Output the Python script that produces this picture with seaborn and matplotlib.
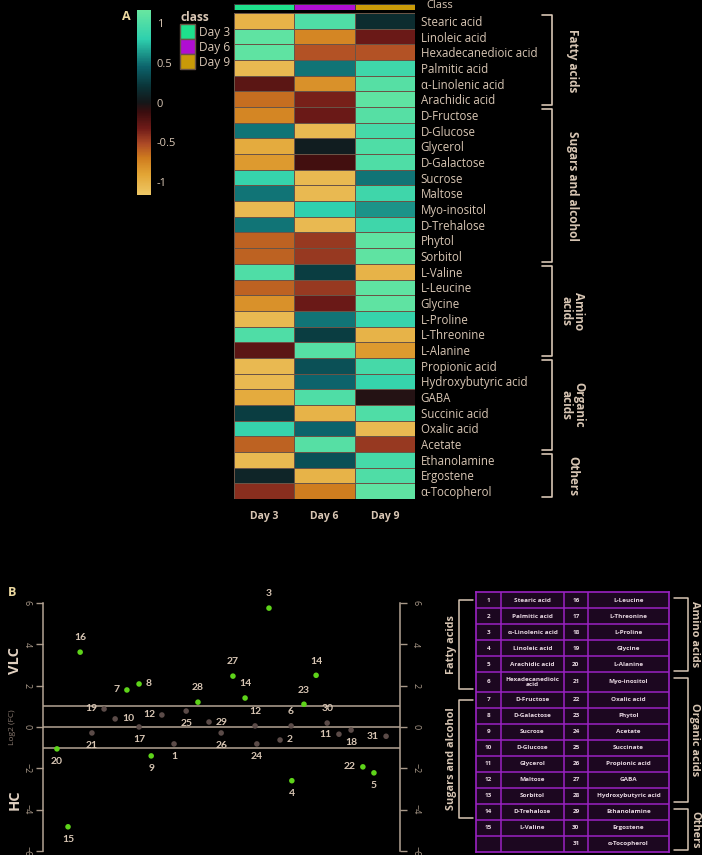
import numpy as np
import pandas as pd
import seaborn as sns
import matplotlib.pyplot as plt
import matplotlib.transforms as mtransforms
from matplotlib.colors import LinearSegmentedColormap, ListedColormap
from matplotlib.patches import Patch

# ---------------- Panel A data ----------------
metabolites = ['Stearic acid', 'Linoleic acid', 'Hexadecanedioic acid', 'Palmitic acid',
               'α-Linolenic acid', 'Arachidic acid', 'D-Fructose', 'D-Glucose', 'Glycerol',
               'D-Galactose', 'Sucrose', 'Maltose', 'Myo-inositol', 'D-Trehalose', 'Phytol',
               'Sorbitol', 'L-Valine', 'L-Leucine', 'Glycine', 'L-Proline', 'L-Threonine',
               'L-Alanine', 'Propionic acid', 'Hydroxybutyric acid', 'GABA', 'Succinic acid',
               'Oxalic acid', 'Acetate', 'Ethanolamine', 'Ergostene', 'α-Tocopherol']
days = ['Day 3', 'Day 6', 'Day 9']
day3 = [-1.0, 1.1, 1.1, -1.05, -0.25, -0.65, -0.75, 0.5, -0.95, -0.85, 0.85, 0.5, -1.05,
        0.5, -0.6, -0.6, 1.0, -0.6, -0.8, -1.05, 1.0, -0.25, -1.05, -1.05, -0.95, 0.25,
        0.85, -0.6, -1.05, 0.1, -0.4]
day6 = [1.0, -0.75, -0.55, 0.5, -0.8, -0.35, -0.3, -1.05, 0.05, -0.15, -1.05, -1.05, 0.8,
        -1.05, -0.45, -0.45, 0.25, -0.45, -0.3, 0.5, 0.25, 1.05, 0.35, 0.45, 1.0, -1.0,
        0.45, 1.05, 0.35, -1.0, -0.7]
day9 = [0.15, -0.3, -0.55, 0.9, 1.05, 1.1, 1.05, 0.95, 1.0, 1.0, 0.5, 0.9, 0.6, 0.9, 1.1,
        1.1, -1.0, 1.1, 1.1, 0.85, -1.0, -0.85, 0.95, 0.85, -0.05, 1.0, -1.05, -0.45, 0.95,
        1.0, 1.1]
class_colors = ['#1ee08c', '#b00ed2', '#c99a08']
groups_a = [('Fatty acids', 0, 6), ('Sugars and alcohol', 6, 16), ('Amino\nacids', 16, 22),
            ('Organic\nacids', 22, 28), ('Others', 28, 31)]

# ---------------- Panel B data ----------------
pt_ids = [20, 15, 16, 21, 19, 10, 7, 8, 17, 9, 12, 1, 25, 28, 29, 26, 27, 14, 12, 24, 3,
          2, 6, 4, 23, 14, 30, 11, 18, 22, 5, 31]
pt_x = [3.9, 7.0, 10.4, 13.7, 17.1, 20.2, 23.5, 26.9, 26.9, 30.3, 33.3, 36.7, 40.1, 43.4,
        46.5, 49.9, 53.2, 56.6, 59.4, 59.9, 63.3, 66.4, 69.5, 69.7, 73.1, 76.5, 79.6, 82.9,
        86.3, 89.6, 92.7, 96.1]
pt_fc = [-1.06, -4.83, 3.62, -0.29, 0.87, 0.39, 1.79, 2.08, 0.0, -1.4, 0.58, -0.82, 0.77,
         1.2, 0.24, -0.29, 2.46, 1.4, 0.05, -0.82, 5.75, -0.63, 0.05, -2.6, 1.1, 2.5, 0.19,
         -0.35, -0.15, -1.93, -2.22, -0.45]
pt_side = ['b', 'b', 't', 'b', 'l', 'r', 'l', 'r', 'b', 'b', 'l', 'b', 'b', 't', 'r', 'b',
           't', 't', 't', 'b', 't', 'r', 't', 'b', 't', 't', 't', 'l', 'b', 'l', 'b', 'l']

left_ids = [str(i) for i in range(1, 16)] + ['']
left_names = ['Stearic acid', 'Palmitic acid', 'α-Linolenic acid', 'Linoleic acid',
              'Arachidic acid', 'Hexadecanedioic\nacid', 'D-Fructose', 'D-Galactose',
              'Sucrose', 'D-Glucose', 'Glycerol', 'Maltose', 'Sorbitol', 'D-Trehalose',
              'L-Valine', '']
right_ids = [str(i) for i in range(16, 32)]
right_names = ['L-Leucine', 'L-Threonine', 'L-Proline', 'Glycine', 'L-Alanine',
               'Myo-inositol', 'Oxalic acid', 'Phytol', 'Acetate', 'Succinate',
               'Propionic acid', 'GABA', 'Hydroxybutyric acid', 'Ethanolamine', 'Ergostene',
               'α-Tocopherol']
groups_left = [('Fatty acids', 0, 6), ('Sugars and alcohol', 6, 14)]
groups_right = [('Amino acids', 0, 5), ('Organic acids', 5, 13), ('Others', 13, 16)]

# ---------------- style ----------------
TXT = '#d8c6b4'
BG = 'black'
sns.set_style('dark')
plt.rcParams['font.family'] = ['Open Sans', 'DejaVu Sans']
plt.rcParams['figure.facecolor'] = BG

VMIN, VMAX = -1.16, 1.16
stops = [(-1.16, '#eec866'), (-0.9, '#e2a434'), (-0.7, '#cf7c1e'), (-0.52, '#ad4a26'),
         (-0.33, '#701b18'), (-0.12, '#3a0d0e'), (0.0, '#141618'), (0.2, '#0a3337'),
         (0.45, '#0c636b'), (0.8, '#2ed0ae'), (1.16, '#68e6a0')]
cmap = LinearSegmentedColormap.from_list(
    'gold_teal', [((v - VMIN) / (VMAX - VMIN), c) for v, c in stops])

fig = plt.figure(figsize=(7.02, 8.55), dpi=100)

# ---------------- Panel A ----------------
df = pd.DataFrame({'Day 3': day3, 'Day 6': day6, 'Day 9': day9}, index=metabolites)
ax_h = fig.add_axes([0.3333, 0.4164, 0.2578, 0.5684])
ax_c = fig.add_axes([0.1952, 0.7719, 0.0199, 0.2164])
ax_cls = fig.add_axes([0.3333, 0.9883, 0.2578, 0.0072])

sns.heatmap(df, ax=ax_h, cmap=cmap, vmin=VMIN, vmax=VMAX, cbar_ax=ax_c,
            linewidths=0.7, linecolor='#6a5446')
ax_h.yaxis.tick_right()
ax_h.set_yticklabels(metabolites, rotation=0, color=TXT, fontsize=8.3)
ax_h.set_xticklabels(days, rotation=0, color=TXT, fontsize=7.5, fontweight='bold')
ax_h.tick_params(length=0, pad=4)
ax_h.tick_params(axis='x', pad=9)
ax_h.set_ylabel('')

ax_c.tick_params(length=0, labelsize=8, colors=TXT, pad=4)
ax_c.set_yticks([-1, -0.5, 0, 0.5, 1])
ax_c.set_yticklabels(['-1', '-0.5', '0', '0.5', '1'])
for s in ax_c.spines.values():
    s.set_visible(False)

sns.heatmap(np.array([[0, 1, 2]]), ax=ax_cls, cmap=ListedColormap(class_colors),
            cbar=False, linewidths=0.4, linecolor='#3a3a3a')
ax_cls.set_xticks([])
ax_cls.set_yticks([])
fig.text(426 / 702, 1 - 6 / 855, 'Class', color=TXT, fontsize=8, va='center')

handles = [Patch(facecolor=c, edgecolor='#6a5446', label=d) for c, d in zip(class_colors, days)]
leg = fig.legend(handles=handles, title='class', loc='upper left',
                 bbox_to_anchor=(172 / 702, 1 - 3 / 855), frameon=False, fontsize=8.6,
                 handlelength=1.2, handleheight=1.55, handletextpad=0.35, labelspacing=0.0,
                 borderpad=0.2)
leg.get_title().set_color(TXT)
leg.get_title().set_fontweight('bold')
leg.get_title().set_fontsize(8.6)
leg._legend_box.align = 'left'
for t in leg.get_texts():
    t.set_color(TXT)

fig.text(122 / 702, 1 - 16 / 855, 'A', color='#ecd9a0', fontsize=9, fontweight='bold',
         va='center')

trans = mtransforms.blended_transform_factory(ax_h.transAxes, ax_h.transData)
for name, a, b in groups_a:
    y0, y1 = a + 0.15, b - 0.1
    ax_h.plot([1.70, 1.757, 1.757, 1.70], [y0, y0, y1, y1], color=TXT, lw=1.2,
              transform=trans, clip_on=False)
    ax_h.text(1.87, (y0 + y1) / 2, name, rotation=-90, ha='center', va='center',
              color=TXT, fontsize=8.5, fontweight='bold', transform=trans,
              linespacing=1.0)

# ---------------- Panel B ----------------
ax_b = fig.add_axes([0.0613, 0.0047, 0.5085, 0.2901])
ax_b.set_facecolor(BG)
dfb = pd.DataFrame({'x': pt_x, 'fc': pt_fc, 'id': pt_ids})
dfb['sig'] = np.where(dfb['fc'].abs() > 1, 'sig', 'ns')
sns.scatterplot(data=dfb, x='x', y='fc', hue='sig', palette={'sig': '#5ed41a', 'ns': '#5b4b48'},
                s=16, linewidth=0, ax=ax_b, legend=False, zorder=3)
for v in [-1, 0, 1]:
    ax_b.axhline(v, color='#b4a494', lw=1.1, zorder=2)
offs = {'t': (0, 7, 'center', 'bottom'), 'b': (0, -6, 'center', 'top'),
        'l': (-5, 0, 'right', 'center'), 'r': (5, 0, 'left', 'center')}
for x, y, i, sd in zip(pt_x, pt_fc, pt_ids, pt_side):
    dx, dy, ha, va = offs[sd]
    ax_b.annotate(str(i), (x, y), xytext=(dx, dy), textcoords='offset points', ha=ha,
                  va=va, color=TXT, fontsize=7.5, fontweight='bold', family='Lato')
ax_b.set_xlim(0, 100)
ax_b.set_ylim(-6, 6)
ax_b.set_xticks([])
ax_b.set_yticks([-6, -4, -2, 0, 2, 4, 6])
ax_b.tick_params(axis='y', colors='#a89888', labelsize=6.5, length=5, width=1, pad=3,
                 left=True, right=True, labelleft=True, labelright=True, direction='out')
for lab in ax_b.get_yticklabels():
    lab.set_rotation(-90)
    lab.set_va('center')
ax_b.set_xlabel('')
ax_b.set_ylabel('')
for side in ['top', 'bottom']:
    ax_b.spines[side].set_visible(False)
for side in ['left', 'right']:
    ax_b.spines[side].set_visible(True)
    ax_b.spines[side].set_color('#b4a494')
    ax_b.spines[side].set_linewidth(1.1)

fig.text(8 / 702, 1 - 592 / 855, 'B', color='#ecd9a0', fontsize=9, fontweight='bold',
         va='center')
fig.text(15 / 702, 1 - 660 / 855, 'VLC', color='#e2d2c2', fontsize=10.5, fontweight='bold',
         rotation=90, ha='center', va='center')
fig.text(15 / 702, 1 - 800 / 855, 'HC', color='#e2d2c2', fontsize=10.5, fontweight='bold',
         rotation=90, ha='center', va='center')
fig.text(12 / 702, 1 - 727 / 855, 'Log2 (FC)', color='#8a7a70', fontsize=6, rotation=90,
         ha='center', va='center')

# ---------------- table ----------------
ax_t = fig.add_axes([0.678, 0.0035, 0.2749, 0.3041])
ax_t.set_facecolor('#1c0720')
heights = [1.2 if '\n' in n else 1.0 for n in left_names]
edges = np.concatenate([[0], np.cumsum(heights)])
ax_t.set_xlim(0, 1)
ax_t.set_ylim(edges[-1], 0)
ax_t.set_xticks([])
ax_t.set_yticks([])
cols = [0, 0.1295, 0.456, 0.58, 1.0]
for s in ax_t.spines.values():
    s.set_color('#9a22c2')
    s.set_linewidth(1.2)
ax_t.hlines(edges[1:-1], 0, 1, color='#9a22c2', lw=1.1)
ax_t.vlines(cols[1:-1], 0, edges[-1], color='#9a22c2', lw=1.1)
col_text = [left_ids, left_names, right_ids, right_names]
for c, texts in enumerate(col_text):
    xc = (cols[c] + cols[c + 1]) / 2
    for r, t in enumerate(texts):
        ax_t.text(xc, (edges[r] + edges[r + 1]) / 2, t, ha='center', va='center',
                  color='#e6d6e0', fontsize=4.6, fontweight='bold', linespacing=1.0)

ttrans = mtransforms.blended_transform_factory(ax_t.transAxes, ax_t.transData)
for name, a, b in groups_left:
    y0, y1 = edges[a] + 0.5, edges[b] - 0.15
    ax_t.plot([-0.016, -0.088, -0.088, -0.016], [y0, y0, y1, y1], color=TXT, lw=1.1,
              transform=ttrans, clip_on=False)
    ax_t.text(-0.125, (y0 + y1) / 2, name, rotation=90, ha='center', va='center',
              color=TXT, fontsize=7.8, fontweight='bold', transform=ttrans)
for name, a, b in groups_right:
    y0, y1 = edges[a] + 0.35, edges[b] - 0.1
    ax_t.plot([1.026, 1.098, 1.098, 1.026], [y0, y0, y1, y1], color=TXT, lw=1.1,
              transform=ttrans, clip_on=False)
    ax_t.text(1.135, (y0 + y1) / 2, name, rotation=-90, ha='center', va='center',
              color=TXT, fontsize=7.8, fontweight='bold', transform=ttrans)

fig.savefig('out.png', dpi=100, facecolor=BG)
